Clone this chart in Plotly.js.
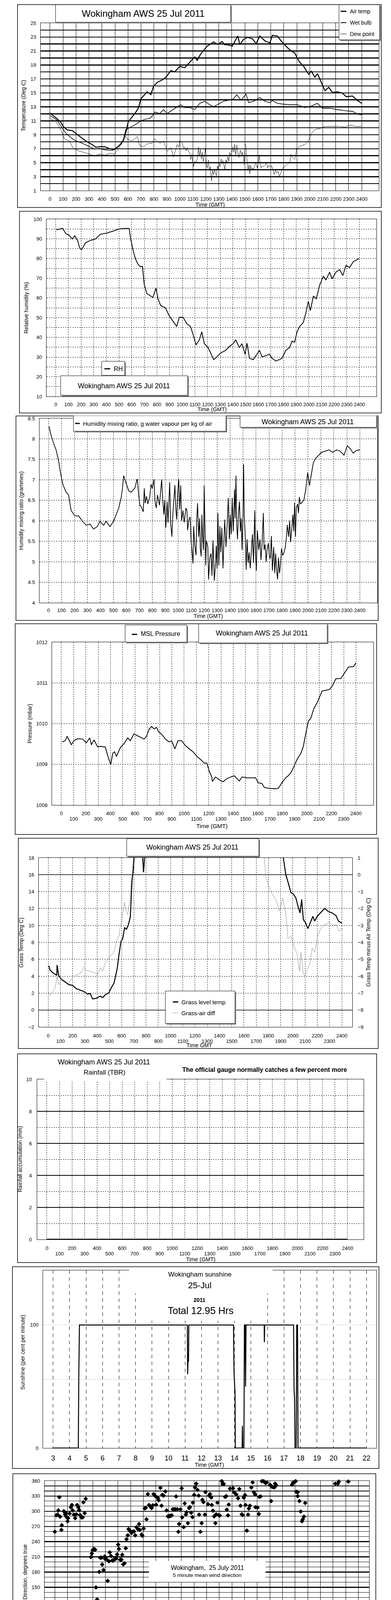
<!DOCTYPE html>
<html><head><meta charset="utf-8">
<script src="https://cdn.plot.ly/plotly-3.0.1.min.js"></script>
<style>
html,body{margin:0;padding:0;background:#fff}
body{width:1000px;height:5000px;position:relative}
.pn{position:absolute}
</style>
</head><body>
<div id="p1" class="pn"></div><div id="p2" class="pn"></div><div id="p3" class="pn"></div>
<div id="p4" class="pn"></div><div id="p5" class="pn"></div><div id="p6" class="pn"></div>
<div id="p7" class="pn"></div><div id="p8" class="pn"></div><div id="p9" class="pn"></div>
<script>
// ---------------- DATA ----------------
const hhmmTicks = [0,100,200,300,400,500,600,700,800,900,1000,1100,1200,1300,1400,1500,1600,1700,1800,1900,2000,2100,2200,2300,2400];
const hourTicks = [0,1,2,3,4,5,6,7,8,9,10,11,12,13,14,15,16,17,18,19,20,21,22,23];
const hourLabels = ['00:00','01:00','02:00','03:00','04:00','05:00','06:00','07:00','08:00','09:00','10:00','11:00','12:00','13:00','14:00','15:00','16:00','17:00','18:00','19:00','20:00','21:00','22:00','23:00'];
const sunTicks = [3,4,5,6,7,8,9,10,11,12,13,14,15,16,17,18,19,20,21,22];
const dirTicks = [0,1,2,3,4,5,6,7,8,9,10,11,12,13,14,15,16,17,18,19,20,21,22,23,24];

// Panel 1: temperatures (time HHMM, deg C)
const airTemp = [[0,12.1],[54,11.3],[83,10.8],[102,10.2],[131,9.7],[170,9.6],[189,9.35],[218,8.9],[247,8.5],[285,8.0],[324,7.6],[353,7.2],[382,7.3],[420,7.3],[459,7.0],[488,6.9],[517,7.2],[546,7.7],[565,8.2],[584,9.35],[603,10.9],[632,11.55],[661,12.25],[680,12.8],[700,14.15],[719,14.55],[748,15.15],[777,14.75],[796,15.9],[825,16.5],[864,16.85],[893,17.25],[931,18.2],[960,18.0],[999,18.8],[1037,18.6],[1076,19.4],[1114,20.15],[1133,19.65],[1153,20.35],[1182,21.1],[1211,21.7],[1240,22.05],[1260,22.3],[1288,21.95],[1326,22.35],[1345,21.9],[1365,21.9],[1403,21.7],[1432,22.65],[1446,23.15],[1461,21.9],[1490,22.65],[1519,22.95],[1558,22.75],[1587,22.05],[1615,23.15],[1654,22.45],[1693,22.15],[1712,23.25],[1750,23.15],[1779,22.45],[1799,22.05],[1827,21.5],[1856,21.0],[1885,20.7],[1904,19.95],[1924,19.35],[1953,18.8],[1991,17.65],[2011,18.1],[2040,17.25],[2059,17.75],[2088,16.5],[2117,15.3],[2146,15.8],[2175,15.05],[2213,15.15],[2252,14.95],[2281,14.45],[2329,14.55],[2368,13.9],[2400,13.5]];
const wetBulb = [[0,11.75],[54,11.1],[93,10.0],[121,9.25],[150,8.75],[189,8.2],[247,7.8],[305,7.3],[343,6.95],[382,7.05],[420,6.85],[478,6.75],[507,6.95],[536,7.5],[565,8.3],[584,9.75],[613,10.0],[661,10.5],[700,11.0],[738,11.25],[767,11.35],[787,11.65],[806,12.25],[845,12.05],[874,12.6],[902,12.05],[941,12.55],[979,13.0],[1008,13.3],[1037,12.9],[1076,12.9],[1114,12.6],[1153,13.5],[1191,13.8],[1230,13.3],[1259,13.0],[1297,13.4],[1336,13.8],[1374,13.95],[1413,14.15],[1438,14.75],[1471,13.95],[1509,14.85],[1529,13.6],[1567,13.8],[1615,14.35],[1654,13.8],[1693,13.6],[1712,13.9],[1750,13.5],[1789,13.4],[1846,13.3],[1904,13.3],[1962,12.9],[2011,13.1],[2059,13.5],[2097,12.8],[2155,12.8],[2213,12.6],[2271,12.45],[2329,12.35],[2368,11.95],[2400,11.85]];
const dewPoint = [[0,11.35],[44,10.9],[83,9.75],[112,8.4],[150,8.1],[179,7.05],[227,6.65],[285,6.35],[343,5.95],[382,6.25],[420,6.05],[459,6.35],[497,6.25],[526,7.05],[555,7.8],[574,8.95],[594,8.4],[632,8.1],[671,8.75],[690,7.5],[719,7.25],[748,7.7],[787,7.8],[806,8.4],[845,7.8],[874,8.1],[902,6.65],[931,7.15],[950,5.8],[979,7.6],
 [992,7.26],[1000,8.19],[1008,8.0],[1018,7.82],[1028,7.07],[1038,7.26],[1048,6.69],[1058,7.16],[1066,6.6],[1078,6.32],[1083,5.47],[1093,6.22],[1100,5.0],[1106,4.44],[1113,5.19],[1123,5.0],[1136,5.75],[1143,7.26],[1150,5.94],[1158,6.88],[1166,5.57],[1173,6.5],[1180,5.19],[1188,5.85],[1196,7.07],[1204,4.82],[1211,4.25],[1219,5.38],[1227,3.88],[1234,4.44],[1239,3.03],[1244,2.38],[1251,3.88],[1259,3.31],[1267,3.97],[1274,3.5],[1281,3.13],[1289,4.53],[1294,4.07],[1301,5.0],[1309,4.44],[1317,5.57],[1324,4.82],[1331,5.29],[1339,4.72],[1346,4.07],[1354,5.38],[1361,5.0],[1369,5.85],[1377,5.19],[1384,6.5],[1391,5.94],[1399,6.41],[1408,7.26],[1415,6.5],[1422,7.63],[1430,6.13],[1438,7.54],[1445,6.5],[1455,5.75],[1465,6.79],[1475,6.13],[1482,6.5],[1490,5.57],[1495,4.72],[1502,7.72],[1508,7.44],[1512,6.22],[1518,5.0],[1525,3.88],[1532,4.72],[1538,3.41],[1545,4.63],[1552,3.88],[1560,4.25],[1568,4.07],[1575,4.53],[1585,5.0],[1595,4.25],[1602,4.82],[1611,6.13],[1619,4.63],[1626,4.25],[1636,4.53],[1646,4.44],[1656,4.63],[1666,5.1],[1676,4.25],[1686,4.63],[1696,4.44],[1706,4.53],[1716,4.07],[1726,3.31],[1736,3.97],[1746,3.5],[1756,3.78],[1766,2.94],[1776,3.5],[1786,3.97],[1796,4.35],[1807,4.44],[1817,4.63],[1827,4.72],[1837,4.91],[1847,5.1],[1854,6.22],[1862,5.85],[1872,5.66],[1882,5.47],[1892,5.94],[1897,7.07],[1904,6.88],[1912,7.16],[1922,7.35],[1937,7.44],[1952,7.54],
 [1962,7.6],[1991,8.2],[2011,9.15],[2040,9.75],[2078,9.9],[2117,10.2],[2175,10.2],[2233,10.2],[2271,10.1],[2310,10.4],[2348,10.2],[2400,10.2]];

// Panel 2: relative humidity (%)
const rh = [[6,94.6],[55,95.3],[79,92.6],[105,91.9],[131,89.9],[150,91.6],[174,88.9],[190,85.2],[204,84.5],[234,87.9],[273,89.2],[313,89.9],[352,92.3],[402,92.9],[451,93.9],[501,95.0],[550,95.3],[580,95.3],[590,90.6],[610,84.5],[630,79.8],[650,77.1],[669,75.8],[685,76.1],[699,67.0],[719,62.3],[749,61.0],[768,60.3],[792,65.0],[808,59.6],[828,56.3],[867,54.9],[897,50.9],[927,48.2],[956,45.5],[976,50.2],[1006,50.2],[1036,46.9],[1065,45.5],[1085,41.5],[1109,36.1],[1135,38.8],[1154,42.8],[1174,36.8],[1204,34.8],[1224,32.1],[1248,28.7],[1273,30.1],[1303,32.1],[1343,33.4],[1372,35.4],[1402,36.8],[1422,38.8],[1451,34.8],[1471,36.8],[1497,31.4],[1511,37.1],[1531,29.4],[1560,28.7],[1590,31.4],[1610,33.4],[1630,30.1],[1659,30.7],[1689,31.4],[1709,29.4],[1739,28.0],[1768,28.7],[1788,29.4],[1818,33.4],[1848,34.8],[1867,38.1],[1887,37.5],[1907,42.8],[1927,45.5],[1956,47.5],[1976,52.3],[1996,58.3],[2012,53.6],[2036,61.0],[2059,59.6],[2085,66.4],[2115,71.1],[2135,69.1],[2164,73.1],[2184,69.7],[2214,73.1],[2243,74.4],[2269,71.4],[2293,76.5],[2323,75.5],[2352,78.5],[2376,79.2],[2396,80.0]];

// Panel 3: humidity mixing ratio (g/kg)
const mixRatio = [[4,8.30],[19,8.09],[39,7.89],[58,7.73],[77,7.47],[93,7.15],[110,6.89],[135,6.70],[154,6.63],[174,6.25],[203,6.12],[232,6.12],[261,5.99],[290,5.89],[319,5.92],[347,5.80],[376,5.86],[396,5.99],[425,5.89],[444,5.99],[473,5.86],[502,5.99],[521,6.15],[541,6.31],[560,6.57],[569,6.76],[579,7.10],[598,6.92],[618,6.73],[637,6.70],[666,6.80],[681,7.0],
 [684,7.02],[694,6.66],[704,6.38],[714,6.35],[730,6.22],[738,6.79],[745,6.43],[755,6.6],[765,6.41],[780,6.58],[790,6.89],[800,6.79],[813,7.01],[820,6.5],[830,6.31],[840,6.63],[855,6.38],[872,7.01],[880,6.54],[889,6.15],[896,6.5],[904,5.83],[914,6.47],[921,5.95],[934,6.94],[941,5.96],[951,5.61],[958,6.15],[974,6.87],[981,6.31],[988,6.03],[996,6.7],[1004,7.02],[1011,6.28],[1019,6.86],[1026,6.0],[1036,6.25],[1046,5.96],[1059,6.31],[1067,6.25],[1072,5.77],[1082,6.03],[1092,6.09],[1099,5.52],[1107,5.26],[1114,4.96],[1119,5.87],[1127,5.42],[1137,5.16],[1142,6.0],[1149,6.43],[1157,5.61],[1165,6.06],[1170,5.32],[1177,5.13],[1182,6.15],[1187,5.67],[1194,5.29],[1200,6.86],[1207,5.8],[1212,4.91],[1217,5.52],[1228,5.36],[1234,4.56],[1243,5.1],[1253,5.2],[1260,4.66],[1268,5.52],[1278,4.54],[1288,4.97],[1293,5.39],[1300,4.84],[1306,6.19],[1313,4.91],[1321,5.87],[1328,5.23],[1336,5.83],[1345,4.84],[1353,5.61],[1358,6.03],[1368,5.36],[1376,5.83],[1386,6.56],[1394,5.55],[1401,6.15],[1409,5.67],[1416,6.56],[1424,5.74],[1434,6.77],[1439,6.06],[1445,7.1],[1451,5.9],[1457,5.55],[1464,6.15],[1472,6.47],[1479,5.74],[1486,6.06],[1492,5.29],[1499,6.09],[1504,7.38],[1509,6.12],[1517,5.61],[1524,4.8],[1531,5.55],[1539,4.97],[1547,5.23],[1555,4.84],[1565,5.36],[1572,5.67],[1580,4.97],[1590,6.25],[1595,5.23],[1602,4.78],[1610,5.77],[1620,5.29],[1630,5.55],[1638,5.04],[1647,5.48],[1656,6.19],[1662,5.29],[1670,5.42],[1678,5.0],[1685,5.29],[1695,5.45],[1702,5.16],[1710,5.07],[1718,5.63],[1726,4.78],[1736,5.36],[1744,4.72],[1751,5.2],[1759,4.78],[1766,4.57],[1773,5.1],[1781,4.72],[1789,4.94],[1796,5.32],[1806,5.16],[1816,5.23],[1826,5.36],[1836,5.67],[1841,5.9],[1851,5.61],[1859,6.0],[1866,5.48],[1876,5.83],[1884,6.15],[1891,5.74],[1897,6.44],[1904,5.61],[1910,6.31],[1920,6.41],[1927,6.19],[1934,6.58],[1942,6.41],[1952,6.44],
 [1969,6.51],[1983,6.76],[1998,7.18],[2012,6.86],[2027,7.15],[2041,7.41],[2056,7.51],[2075,7.57],[2104,7.67],[2133,7.70],[2162,7.73],[2191,7.67],[2220,7.73],[2249,7.70],[2278,7.60],[2303,7.83],[2326,7.76],[2349,7.65],[2375,7.72],[2400,7.73]];

// Panel 4: MSL pressure (mbar)
const pressure = [[6,1009.55],[31,1009.58],[47,1009.69],[82,1009.48],[102,1009.58],[133,1009.63],[174,1009.62],[204,1009.53],[231,1009.65],[245,1009.48],[266,1009.6],[296,1009.43],[317,1009.44],[357,1009.43],[382,1009.17],[402,1009.0],[419,1009.27],[433,1009.31],[449,1009.19],[480,1009.41],[511,1009.51],[541,1009.65],[562,1009.58],[592,1009.75],[623,1009.7],[653,1009.65],[674,1009.62],[694,1009.69],[715,1009.86],[735,1009.93],[756,1009.87],[776,1009.91],[790,1009.81],[817,1009.74],[848,1009.62],[878,1009.55],[899,1009.58],[925,1009.38],[950,1009.58],[980,1009.58],[1011,1009.46],[1042,1009.38],[1072,1009.31],[1103,1009.2],[1134,1009.12],[1164,1009.03],[1185,1009.03],[1205,1008.83],[1225,1008.69],[1230,1008.58],[1256,1008.69],[1287,1008.62],[1317,1008.57],[1348,1008.65],[1379,1008.69],[1409,1008.72],[1450,1008.59],[1471,1008.69],[1511,1008.67],[1552,1008.67],[1583,1008.67],[1603,1008.55],[1634,1008.53],[1654,1008.43],[1695,1008.41],[1736,1008.4],[1767,1008.41],[1797,1008.55],[1828,1008.67],[1848,1008.72],[1869,1008.79],[1889,1008.91],[1920,1009.12],[1951,1009.27],[1971,1009.44],[1991,1009.75],[2012,1010.06],[2032,1010.13],[2057,1010.37],[2083,1010.51],[2104,1010.65],[2124,1010.8],[2155,1010.82],[2185,1010.84],[2206,1010.92],[2236,1011.1],[2277,1011.11],[2308,1011.25],[2339,1011.39],[2380,1011.4],[2400,1011.49]];

// Panel 5: grass temperature and grass-air difference
const grassTemp = [[4,5.24],[14,4.76],[35,4.44],[59,4.2],[70,4.1],[72,5.32],[86,4.04],[107,3.64],[137,3.32],[168,3.0],[199,2.92],[230,2.52],[260,2.36],[291,2.2],[322,1.88],[343,1.96],[363,1.31],[394,1.4],[425,1.64],[445,1.47],[466,1.8],[496,2.04],[517,2.68],[537,3.16],[552,4.12],[564,4.92],[578,6.52],[595,8.12],[609,8.44],[624,9.72],[640,9.56],[654,10.04],[671,11.0],[685,15.33],[695,16.6],[704,18.4],[705,null],[771,18.4],[776,17.0],[779,16.3],[784,17.2],[789,18.4],[790,null],[1918,18.4],[1922,18.0],[1943,15.97],[1963,15.0],[1984,13.88],[2004,13.72],[2025,13.24],[2045,12.12],[2059,11.48],[2072,13.08],[2086,10.68],[2103,10.36],[2123,9.64],[2148,10.52],[2164,11.08],[2178,10.52],[2199,11.08],[2230,11.56],[2260,12.01],[2291,11.64],[2322,11.48],[2353,11.16],[2373,10.52],[2400,10.28]];
const grassDiff = [[4,-6.98],[14,-7.14],[35,-6.9],[55,-6.74],[72,-6.02],[86,-6.5],[113,-6.18],[137,-6.26],[168,-6.42],[189,-6.18],[209,-6.02],[240,-5.9],[271,-5.78],[291,-5.46],[312,-5.66],[343,-5.7],[373,-5.78],[404,-5.9],[425,-5.5],[445,-5.7],[466,-5.22],[486,-5.02],[507,-4.82],[537,-4.58],[558,-3.94],[578,-3.62],[599,-2.66],[613,-2.18],[624,-1.62],[636,-2.18],[650,-2.34],[667,-1.46],[677,-0.5],[687,0.06],[697,1.1],[698,null],[1766,1.1],[1768,0.95],[1778,-0.1],[1799,-0.58],[1830,-1.14],[1860,-1.46],[1891,-2.14],[1918,-1.38],[1943,-2.34],[1960,-3.78],[1984,-3.62],[2014,-4.26],[2035,-4.74],[2055,-5.7],[2066,-4.58],[2086,-5.86],[2096,-5.94],[2117,-5.62],[2137,-5.3],[2158,-4.34],[2178,-4.58],[2199,-3.78],[2219,-3.3],[2250,-2.98],[2281,-2.9],[2291,-2.78],[2322,-2.98],[2353,-2.94],[2377,-3.34],[2400,-3.14]];

// Panel 6: rainfall accumulation (mm)
const rainfall = [[0,0],[2400,0]];

// Panel 7: sunshine (hour, per cent per minute)
const sunshine = [[3,0],[4.53,0],[4.56,60],[4.6,100],[11.14,100],[11.16,60],[11.19,76],[11.21,70],[11.23,100],[13.94,100],[13.97,62],[14.0,55],[14.03,45],[14.05,0],[14.46,0],[14.48,18],[14.5,0],[14.57,0],[14.6,100],[14.64,100],[14.67,50],[14.7,100],[15.8,100],[15.81,86],[15.83,100],[17.58,100],[17.61,48],[17.64,40],[17.67,0],[17.74,0],[17.77,100],[17.82,100],[17.85,0],[22,0]];

// Panel 8: 5 minute mean wind direction (hour, degrees)
const windDir = [[0,259.6],[0.12,291.9],[0.22,293.4],[0.28,301.7],[0.36,327.8],[0.42,289.4],[0.52,263.3],[0.55,272.5],[0.71,300.1],[0.81,294],[0.87,296.5],[0.91,289.4],[0.97,287.9],[1.01,280.2],[1.05,286.3],[1.17,295.5],[1.27,307.8],[1.35,312.4],[1.41,301.7],[1.51,293.4],[1.61,286.3],[1.70,294],[1.76,312.4],[1.86,307.8],[1.92,302.3],[2.0,292.5],[2.10,287.9],[2.2,287.9],[2.26,317.6],[2.36,296.2],[2.44,324.7],[2.5,19.3],[2.6,0.9],[2.66,4],[2.7,43.9],[2.73,5.5],[2.85,209.6],[2.93,216.7],[2.99,223.4],[3.09,225.6],[3.19,224],[3.25,149.7],[3.35,125.8],[3.45,106.8],[3.51,180.4],[3.59,208.4],[3.69,208.4],[3.75,194.9],[3.85,184.1],[3.94,210.8],[3.98,205.9],[4.08,205.6],[4.18,162.6],[4.28,201.3],[4.34,218.8],[4.44,211.7],[4.54,202.8],[4.62,202.8],[4.68,204.1],[4.78,208],[4.84,206.5],[4.93,214.8],[5.01,234.2],[5.07,225.6],[5.17,204.4],[5.27,204.4],[5.33,214.2],[5.41,195.2],[5.51,197.3],[5.61,227.1],[5.67,244.9],[5.77,252.6],[5.83,264.8],[5.93,261.8],[6.0,259.6],[6.06,257.2],[6.16,259.6],[6.26,260.2],[6.36,252.6],[6.46,268.5],[6.56,264.8],[6.66,274.7],[6.72,263.3],[6.86,254.1],[6.92,251.6],[7.02,265.8],[7.11,305.7],[7.19,306.9],[7.25,284.2],[7.35,333.9],[7.45,312.4],[7.55,309.4],[7.65,306.3],[7.75,311.8],[7.81,333.9],[7.91,330.8],[8.01,313],[8.05,327.8],[8.15,326.2],[8.21,321.6],[8.35,346.2],[8.44,310.9],[8.5,332.4],[8.6,330.8],[8.74,339.1],[8.84,301.7],[8.94,290],[9.06,290.3],[9.14,290.9],[9.24,291.9],[9.33,304.1],[9.43,303.8],[9.53,304.1],[9.59,329.3],[9.69,304.1],[9.77,259.6],[9.83,275],[9.93,303.8],[10.03,345.3],[10.07,287.9],[10.19,268.8],[10.27,315.5],[10.36,293.4],[10.42,298],[10.52,276.5],[10.62,306.3],[10.68,308.4],[10.78,297.1],[10.88,288.5],[10.92,317],[11.02,332.4],[11.08,347.1],[11.18,354.5],[11.28,342.2],[11.37,330.8],[11.41,293.4],[11.51,259.6],[11.61,276.5],[11.67,322.6],[11.75,318],[11.87,293.4],[11.91,337.9],[12.01,3],[12.11,314],[12.21,330.8],[12.27,333.9],[12.37,327.2],[12.41,312.4],[12.5,301.1],[12.6,290],[12.7,276.5],[12.76,294],[12.86,317],[12.96,292.5],[13.04,291.6],[13.1,5.5],[13.2,359.4],[13.26,353.9],[13.36,353.9],[13.46,328.4],[13.56,329.9],[13.6,303.2],[13.69,291.9],[13.75,313.3],[13.85,344.7],[13.93,24.5],[13.99,39.9],[14.09,345.3],[14.19,337],[14.29,39.9],[14.35,333],[14.45,4.6],[14.49,325.6],[14.59,344],[14.68,310.9],[14.78,294],[14.84,292.5],[14.94,326.8],[15.04,331.8],[15.08,312.4],[15.18,261.8],[15.28,293.4],[15.34,305.4],[15.42,310.9],[15.54,346.8],[15.64,356.9],[15.74,337.6],[15.84,333],[15.87,307.8],[16.03,307.2],[16.13,294.6],[16.17,328.4],[16.27,329.3],[16.37,359.4],[16.41,0.9],[16.51,359.4],[16.63,11],[16.67,355.4],[16.77,356.9],[16.86,8.6],[16.92,16.2],[17.02,352.3],[17.1,320.1],[17.16,348.3],[17.26,347.7],[17.36,347.1],[17.42,354.5],[17.5,351.4],[17.62,6.1],[17.72,4.6],[17.82,16.2],[17.92,4.6],[18.01,10.1],[18.11,11.7],[18.21,20.8],[18.31,14.7],[18.41,11.7],[18.49,13.2],[18.61,7.7],[18.75,352.3],[18.85,356.9],[18.95,357.5],[19.04,359.4],[19.1,338.5],[19.2,337.6],[19.2,329.9],[19.34,320.1],[19.44,299.5],[19.54,280.2],[19.6,283.9],[19.7,289.4],[19.8,316.4],[19.84,21.4],[19.94,25.4],[20.04,30.6],[20.2,20.8],[20.3,66.9],[20.34,47],[20.39,70.6],[20.53,57.7],[20.59,5.5],[20.69,23],[20.79,54.6],[20.89,58.6],[21.03,30.6],[21.12,28.5],[21.22,26],[21.32,23.9],[21.36,43.3],[21.48,36.2],[21.62,72.1],[21.68,59.8],[21.78,26],[21.88,27.6],[21.92,14.4],[22.02,5.5],[22.12,6.1],[22.18,354.5],[22.28,2.5],[22.38,354.5],[22.45,358.5],[22.51,22.4],[22.61,30.6],[22.71,16.2],[22.81,19.9],[22.91,10.1],[23.01,7.7],[23.11,13.2],[23.21,358.5],[23.37,2.5],[23.5,7.7],[23.6,11.7],[23.66,13.2],[23.76,21.4],[23.9,22.4]];

// Panel 9: wind speed (hour, knots)
const windMean = [[0,1.6],[0.5,1.8],[1,2.1],[1.5,2.4],[1.8,3.2],[2,3.0],[2.2,1.9],[2.5,1.6],[3,1.2],[3.5,1.4],[4,1.9],[4.3,1.4],[4.5,1.9],[5,1.6],[5.5,1.6],[6,2.3],[6.5,2.3],
 [6.85,2.0],[7.05,1.8],[7.15,3.5],[7.3,5.1],[7.4,4.1],[7.5,3.7],[7.6,5.1],[7.75,5.3],[7.85,4.5],[7.95,3.9],[8.05,5.1],[8.15,7.6],[8.25,6.4],[8.36,5.1],[8.46,5.5],[8.61,6.4],[8.76,6.0],[8.86,5.5],[9.01,6.4],[9.11,5.7],[9.26,4.5],[9.41,5.1],[9.56,5.5],[9.71,4.9],[9.86,5.3],[9.96,3.5],[10.04,2.4],[10.16,3.5],[10.31,4.5],[10.46,6.4],[10.61,6.6],[10.77,6.8],[10.92,6.6],[11.02,7.4],[11.12,8.0],[11.22,8.7],[11.32,7.8],[11.47,6.4],[11.57,4.5],[11.67,2.8],[11.82,3.9],[11.97,5.1],[12.07,3.9],[12.22,6.6],[12.37,6.8],[12.52,6.0],[12.72,7.4],[12.87,6.6],[13.02,6.0],[13.17,3.7],[13.28,3.0],[13.43,4.9],[13.58,4.3],[13.73,5.5],[13.88,5.3],[14.03,4.1],[14.23,3.2],[14.33,1.8],[14.48,4.1],[14.6,2.4],[14.73,5.3],[14.88,7.0],[14.98,6.4],[15.13,5.1],[15.28,5.7],[15.43,7.4],[15.58,7.0],[15.73,6.4],[15.89,4.5],[15.99,3.5],[16.14,4.3],[16.29,5.5],[16.44,5.1],[16.59,4.5],[16.74,4.9],[16.89,6.0],[17.04,4.5],[17.19,4.7],[17.34,5.5],[17.44,6.6],[17.64,6.2],[17.74,3.9],[17.84,2.6],[17.99,3.0],[18.14,2.8],[18.3,3.9],[18.45,5.1],[18.6,3.9],[18.75,2.2],[18.9,1.4],[19.05,1.2],[19.3,1.6],
 [19.5,1.4],[20,3.5],[20.3,2.8],[20.6,3.0],[21,2.3],[21.5,2.3],[22,1.6],[22.5,1.9],[23,1.0],[23.5,1.2],[23.9,1.4]];
const windGust = [[0,3.7],[0.5,3.0],[1,3.9],[1.4,4.8],[1.8,4.4],[2.1,3.5],[2.5,2.3],[2.9,1.9],[3,0],[3.1,1.5],[3.4,2.1],[4,4.4],[4.3,3.0],[4.7,3.0],[5,2.6],[5.5,2.3],[5.9,4.4],[6.1,5.5],[6.5,3.9],[6.8,4.6],
 [6.85,3.0],[6.95,1.8],[7.05,5.5],[7.15,7.8],[7.25,9.1],[7.35,7.0],[7.45,5.5],[7.55,7.2],[7.7,9.7],[7.8,6.0],[7.85,3.0],[7.95,4.7],[8.05,11.4],[8.15,8.0],[8.25,10.1],[8.36,7.6],[8.51,10.5],[8.61,7.6],[8.71,11.0],[8.81,7.2],[8.91,11.4],[9.01,8.5],[9.11,10.1],[9.21,6.8],[9.31,11.0],[9.41,7.2],[9.56,9.7],[9.71,7.6],[9.81,5.5],[9.91,8.5],[10.01,3.5],[10.16,7.2],[10.31,11.0],[10.46,11.6],[10.56,9.3],[10.66,12.5],[10.82,8.9],[10.97,15.4],[11.12,10.5],[11.27,15.2],[11.42,9.7],[11.57,7.2],[11.67,5.1],[11.77,8.5],[11.87,6.4],[11.97,9.3],[12.12,12.5],[12.27,9.3],[12.42,13.4],[12.57,8.9],[12.77,11.4],[12.92,9.3],[13.07,7.2],[13.22,6.0],[13.33,10.5],[13.48,7.6],[13.58,11.0],[13.73,7.2],[13.83,10.1],[14.0,5.1],[14.13,10.5],[14.28,5.5],[14.38,8.0],[14.53,3.5],[14.68,8.9],[14.78,13.6],[14.93,9.3],[15.08,12.0],[15.23,8.5],[15.38,12.5],[15.53,8.9],[15.68,11.0],[15.84,5.5],[15.94,3.9],[16.04,9.3],[16.19,7.6],[16.29,9.7],[16.44,6.0],[16.59,8.5],[16.74,6.4],[16.89,9.3],[17.04,5.5],[17.19,8.0],[17.29,10.5],[17.39,11.4],[17.49,7.6],[17.59,8.5],[17.74,5.1],[17.84,3.5],[17.94,6.8],[18.04,3.5],[18.19,5.5],[18.3,8.9],[18.4,7.2],[18.5,6.4],[18.65,2.6],[18.8,1.8],[18.95,1.6],[19.15,2.2],[19.35,2.0],
 [19.5,2.1],[19.8,2.6],[20,7.5],[20.3,4.8],[20.6,5.7],[20.9,3.9],[21.1,5.3],[21.5,3.0],[21.9,2.6],[22.3,2.3],[22.6,3.0],[23,1.9],[23.5,2.1],[23.9,2.8]];
const windLowX10 = [[0,15.6],[0.04,14.7],[0.10,17.4],[0.14,18.3],[0.19,19.7],[0.23,23.3],[0.27,22.0],[0.33,20.6],[0.39,21.5],[0.42,19.3],[0.48,18.3],[0.52,17.0],[0.58,16.3],[0.62,17.4],[0.68,18.8],[0.71,19.7],[0.77,22.0],[0.81,23.3],[0.91,22.4],[0.97,20.2],[1.04,19.3],[1.10,20.2],[1.16,23.3],[1.20,22.0],[1.26,20.6],[1.29,26.5],[1.35,27.8],[1.39,30.5],[1.43,33.0],[1.49,34.6],[1.51,36.8],[1.54,39.1],[1.58,37.7],[1.62,36.4],[1.68,35.0],[1.62,32.3],[1.68,30.1],[1.74,28.8],[1.78,27.0],[1.82,28.4],[1.87,29.7],[1.91,32.0],[1.93,33.8],[1.97,35.0],[2.03,32.7],[2.07,29.7],[2.07,28.0],[2.11,26.5],[2.12,22.9],[2.16,21.1],[2.16,17.0],[2.22,17.9],[2.28,16.5],[2.36,18.3],[2.41,15.6],[2.45,15.2],[2.51,15.6],[2.59,14.7],[2.65,14.3],[2.74,13.8],[2.78,12.9],[2.84,12.0],[2.90,8.9],[2.94,5.7],[2.99,13.8],[3.09,17.0],[3.13,15.2],[3.19,12.5],[3.23,11.1],[3.28,10.2],[3.32,8.0],[3.38,9.8],[3.42,12.9],[3.48,14.3],[3.55,11.1],[3.61,9.3],[3.65,15.2],[3.71,17.9],[3.75,19.7],[3.80,17.0],[3.86,16.3],[3.90,18.8],[4.00,23.3],[4.06,26.1],[4.09,28.2],[4.13,25.0],[4.19,22.4],[4.25,20.6],[4.29,17.4],[4.33,14.3],[4.38,12.5],[4.44,13.4],[4.48,19.7],[4.52,22.0],[4.58,23.8],[4.63,25.0],[4.67,22.9],[4.77,19.3],[4.83,18.3],[4.91,17.0],[4.96,15.2],[5.02,13.8],[5.10,12.9],[5.16,14.7],[5.21,16.3],[5.25,17.4],[5.35,18.8],[5.41,19.7],[5.48,17.0],[5.54,14.3],[5.60,16.3],[5.64,17.9],[5.68,19.3],[5.74,20.2],[5.79,21.5],[5.83,22.4],[5.89,23.8],[5.93,25.7],[5.97,28.4],[5.99,31.4],[6.03,33.8],[6.06,33.0],[6.12,33.4],[6.18,31.9],[6.26,30.5],[6.32,27.8],[6.37,26.0],[6.41,24.2],[6.45,23.3],[6.51,26.9],[6.57,28.7],[6.60,30.1],[6.66,32.3],[6.72,30.5],[6.76,27.8],[6.80,25.5],[6.84,23.3],[6.89,20.6],[6.93,19.3],[6.99,18.3],[7.03,21.5],[7.09,23.8],[7.13,27.8],[7.15,31.9],[7.18,34.6],[7.22,36.8],[7.49,40.0],[7.57,38.2],[7.61,36.0],[7.63,35.0],[7.72,37.7],[7.96,39.3],[8.00,37.7],[9.89,37.7],[9.95,36.0],[9.98,34.1],[10.02,33.2],[10.04,29.6],[10.08,27.8],[10.08,25.9],[10.02,23.3],[10.14,35.5],[10.20,39.1],[11.68,39.5],[11.74,35.5],[11.78,31.8],[11.82,30.0],[11.72,26.4],[11.82,39.1],[12.01,39.5],[12.07,36.4],[12.11,34.1],[12.05,32.7],[12.15,37.3],[13.17,36.8],[13.21,34.1],[13.27,32.7],[13.31,31.8],[13.21,29.2],[13.36,37.7],[13.36,35.0],[14.04,37.7],[14.10,38.6],[14.14,39.1],[14.04,36.0],[14.23,36.4],[14.29,28.7],[14.33,26.0],[14.37,23.3],[14.33,18.3],[14.43,32.3],[14.46,27.3],[14.52,25.0],[14.62,31.9],[14.66,28.7],[14.68,24.2],[14.72,36.4],[14.75,34.1],[15.97,39.1],[16.03,37.3],[16.03,35.0],[15.97,33.6],[16.01,32.7],[16.11,39.5],[16.65,39.5],[16.74,40.0],[17.32,39.5],[17.81,37.3],[17.84,32.3],[17.90,30.5],[17.86,27.3],[17.92,25.0],[17.96,28.7],[18.04,36.8],[18.10,39.1],[18.13,37.7],[18.15,35.0],[18.19,31.8],[18.23,30.0],[18.29,33.2],[18.33,35.0],[18.39,39.1],[18.64,36.8],[18.68,34.1],[18.71,30.5],[18.75,28.3],[18.77,26.0],[18.81,24.2],[18.81,21.1],[18.85,19.7],[18.87,17.9],[18.91,16.3],[18.96,14.3],[19.02,12.9],[19.10,11.5],[19.16,10.7],[19.25,13.4],[19.31,15.2],[19.35,16.5],[19.41,16.1],[19.45,14.3],[19.51,14.7],[19.58,15.6],[19.64,14.3],[19.70,17.0],[19.80,19.7],[19.83,20.2],[19.89,23.8],[19.93,25.7],[19.97,28.2],[19.99,30.5],[20.03,38.6],[20.12,36.8],[20.22,37.7],[20.28,35.5],[20.32,33.8],[20.36,32.0],[20.41,29.7],[20.47,27.9],[20.51,26.0],[20.57,28.7],[20.61,30.9],[20.64,33.2],[20.66,34.6],[20.70,37.3],[20.76,36.0],[20.80,33.8],[20.86,32.3],[20.90,36.4],[20.93,35.0],[20.99,27.0],[21.05,25.1],[21.09,23.3],[21.13,20.6],[21.17,18.8],[21.20,17.4],[21.24,16.1],[21.28,22.9],[21.32,25.7],[21.36,28.4],[21.40,29.3],[21.44,27.0],[21.48,24.3],[21.51,22.0],[21.57,21.1],[21.63,22.4],[21.67,26.1],[21.73,24.3],[21.77,22.4],[21.82,23.3],[21.86,24.6],[21.90,19.3],[21.96,17.0],[22.00,15.2],[22.04,13.4],[22.05,11.5],[22.09,10.7],[22.15,14.3],[22.21,16.1],[22.25,15.2],[22.31,18.3],[22.34,16.5],[22.40,14.3],[22.44,12.5],[22.48,15.2],[22.54,18.8],[22.60,20.6],[22.63,21.5],[22.69,19.3],[22.73,17.9],[22.79,20.2],[22.83,21.1],[22.89,22.4],[22.92,21.1],[22.96,18.8],[23.02,15.6],[23.06,13.4],[23.12,11.5],[23.16,8.4],[23.17,7.0],[23.21,9.8],[23.27,12.0],[23.33,13.8],[23.41,12.9],[23.46,12.0],[23.52,11.5],[23.60,12.9],[23.66,13.8],[23.72,12.5],[23.77,11.5],[23.83,10.2],[23.89,12.9],[23.95,14.3],[23.99,15.6],[24.02,16.5]];

// ---------------- HELPERS ----------------
const FONT = '"Liberation Sans", Arial, sans-serif';
const CFG = {staticPlot:true, displayModeBar:false};

function Panel(id, frame, plot){
  const [FL,FT,FR,FB]=frame,[PL,PT,PR,PB]=plot;
  const W=FR-FL,H=FB-FT,pw=PR-PL,ph=PB-PT;
  const el=document.getElementById(id);
  Object.assign(el.style,{left:FL+'px',top:FT+'px',width:W+'px',height:H+'px'});
  const px=x=>(x-PL)/pw, py=y=>(PB-y)/ph;
  const shapes=[],annotations=[];
  const p={px,py,shapes,annotations};
  p.rect=(x0,y0,x1,y1,fill,lc,lw)=>shapes.push({type:'rect',xref:'paper',yref:'paper',x0:px(x0),x1:px(x1),y0:py(y1),y1:py(y0),fillcolor:fill,line:{color:lc||'rgba(0,0,0,0)',width:lc?(lw||1):0},layer:'above'});
  p.box=(x0,y0,x1,y1)=>{p.rect(x0+3,y0+3,x1+3,y1+3,'#8a8a8a'); p.rect(x0,y0,x1,y1,'#fff','#000',1);};
  p.seg=(x0,y0,x1,y1,w,c)=>shapes.push({type:'line',xref:'paper',yref:'paper',x0:px(x0),x1:px(x1),y0:py(y0),y1:py(y1),line:{color:c||'#000',width:w},layer:'above'});
  p.hline=(yv,w,yref)=>shapes.push({type:'line',xref:'paper',yref:yref||'y',x0:0,x1:1,y0:yv,y1:yv,line:{color:'#000',width:w},layer:'between'});
  p.text=(x,y,t,size,o)=>annotations.push(Object.assign({xref:'paper',yref:'paper',x:px(x),y:py(y),text:t,showarrow:false,xanchor:'center',yanchor:'middle',font:{family:FONT,size:size,color:'#000'}},o||{}));
  p.rect(FL+0.75,FT+0.75,FR-0.75,FB-0.75,'rgba(0,0,0,0)','#000',1.5);
  p.layout=(extra)=>Object.assign({width:W,height:H,margin:{l:PL-FL,r:FR-PR,t:PT-FT,b:FB-PB,pad:0},paper_bgcolor:'#fff',plot_bgcolor:'#fff',showlegend:false,font:{family:FONT,size:13,color:'#000'},shapes,annotations},extra);
  return p;
}
function ax(o){return Object.assign({showline:true,mirror:true,linecolor:'#000',linewidth:1,ticks:'',zeroline:false,showgrid:true,gridcolor:'#000',gridwidth:1,tickangle:0,tickfont:{family:FONT,size:13,color:'#000'},fixedrange:true},o);}
function line(d,w,c,extra){return Object.assign({type:'scatter',mode:'lines',x:d.map(v=>v[0]),y:d.map(v=>v[1]),line:{color:c,width:w},hoverinfo:'skip'},extra||{});}
// Two staggered rows of tick labels: main axis carries even labels + all grid lines, overlay axis carries odd labels one row lower
function twoRowX(range, vals, labels, standoff, gridOpts){
  const main = ax(Object.assign({range, tickvals:vals, ticktext:labels.map((l,i)=>i%2?'':l), ticklabelstandoff:standoff}, gridOpts||{}));
  const second = ax({range, overlaying:'x', anchor:'y', side:'bottom', tickvals:vals.filter((v,i)=>i%2), ticktext:labels.filter((l,i)=>i%2), showgrid:false, showline:false, mirror:false, ticklabelstandoff:standoff+17});
  return {xaxis:main, xaxis2:second};
}
const dummyX2 = {type:'scatter',mode:'lines',x:[],y:[],xaxis:'x2',hoverinfo:'skip',showlegend:false};
const oneRow = hhmmTicks.map(String);
const dotGrid = {gridcolor:'#000',griddash:'dot',gridwidth:1};

// ---------------- PANEL 1 ----------------
(function(){
const p=Panel('p1',[44,11,976,532],[104,59,969,488]);
p.box(142,12,590,57); p.text(366,35,'Wokingham AWS 25 Jul 2011',24);
p.box(867,12,971,102);
p.seg(871,29,886,29,3); p.text(893,29,'Air temp',14,{xanchor:'left'});
p.seg(871,58,886,58,2); p.text(893,58,'Wet bulb',14,{xanchor:'left'});
p.seg(871,87,886,87,1); p.text(893,87,'Dew point',14,{xanchor:'left'});
p.text(537,524,'Time (GMT)',14);
p.text(60,270,'Temperature (Deg C)',14,{textangle:-90});
Plotly.newPlot('p1',[line(dewPoint,0.9,'#000'),line(wetBulb,1.6,'#000'),line(airTemp,2.5,'#000')],
 p.layout({xaxis:ax({range:[-72,2532],tickvals:hhmmTicks,ticktext:oneRow,ticklabelstandoff:9}),
  yaxis:ax({range:[1,25],tick0:1,dtick:2,gridwidth:2.5,ticklabelstandoff:8,minor:{dtick:1,showgrid:true,gridcolor:'#000',gridwidth:2.5}})}),CFG);
})();

// ---------------- PANEL 2 ----------------
(function(){
const p=Panel('p2',[49,540,976,1058],[119,561,963,1015]);
p.box(260,925,319,961); p.seg(267,944,282,944,3); p.text(289,944,'RH',16,{xanchor:'left'});
p.box(155,962,480,1012); p.text(317,988,'Wokingham AWS 25 Jul 2011',18);
p.text(542,1048,'Time (GMT)',14);
p.text(67,788,'Relative humidity (%)',14,{textangle:-90});
Plotly.newPlot('p2',[line(rh,2,'#000')],
 p.layout({xaxis:ax(Object.assign({range:[-73,2535],tickvals:hhmmTicks,ticktext:oneRow,ticklabelstandoff:8},dotGrid)),
  yaxis:ax(Object.assign({range:[10,100],dtick:10,ticklabelstandoff:8,minor:Object.assign({dtick:5,showgrid:true},dotGrid)},dotGrid))}),CFG);
})();

// ---------------- PANEL 3 ----------------
(function(){
const p=Panel('p3',[40,1064,968,1589],[101,1071,965,1543]);
p.box(188,1064,578,1104); p.seg(192,1084,204,1084,3); p.text(210,1084,'Humidity mixing ratio, g water vapour per kg of air',15,{xanchor:'left'});
p.box(614,1064,963,1094); p.text(787,1080,'Wokingham AWS 25 Jul 2011',18);
p.text(532,1577,'Time (GMT)',14);
p.text(54,1308,'Humidity mixing ratio (grammes)',14,{textangle:-90});
Plotly.newPlot('p3',[line(mixRatio,1.8,'#000')],
 p.layout({xaxis:ax(Object.assign({range:[-70,2535],tickvals:hhmmTicks,ticktext:oneRow,ticklabelstandoff:7},dotGrid)),
  yaxis:ax(Object.assign({range:[4,8.5],dtick:0.5,ticklabelstandoff:8},dotGrid))}),CFG);
})();

// ---------------- PANEL 4 ----------------
(function(){
const p=Panel('p4',[38,1596,964,2137],[133,1644,955,2061]);
p.box(320,1600,478,1644); p.seg(337,1624,351,1624,3); p.text(358,1622,'MSL Pressure',16,{xanchor:'left'});
p.box(508,1597,837,1646); p.text(670,1621,'Wokingham AWS 25 Jul 2011',18);
p.text(542,2114,'Time (GMT)',15);
p.text(76,1853,'Pressure (mbar)',14,{textangle:-90});
Plotly.newPlot('p4',[line(pressure,2,'#000'),dummyX2],
 p.layout(Object.assign(twoRowX([-76,2542],hhmmTicks,oneRow,9,dotGrid),
  {yaxis:ax(Object.assign({range:[1008,1012],dtick:1,ticklabelstandoff:8},dotGrid))})),CFG);
})();

// ---------------- PANEL 5 ----------------
(function(){
const p=Panel('p5',[46,2145,968,2685],[99,2196,901,2629]);
p.hline(16,1.5); p.hline(0,1.5);
p.box(324,2147,662,2192); p.text(492,2169,'Wokingham AWS 25 Jul 2011',18);
p.box(423,2537,601,2620);
p.seg(442,2565,456,2565,3); p.text(462,2565,'Grass level temp',15,{xanchor:'left'});
p.seg(442,2593,456,2593,1,'#888'); p.text(462,2593,'Grass-air diff',15,{xanchor:'left'});
p.text(510,2676,'Time GMT',14);
p.text(54,2413,'Grass Temp (Deg C)',14,{textangle:-90});
p.text(942,2413,'Grass Temp minus Air Temp (Deg C)',14,{textangle:-90});
Plotly.newPlot('p5',[line(grassDiff,1,'#8c8c8c',{yaxis:'y2'}),line(grassTemp,2.5,'#000'),dummyX2],
 p.layout(Object.assign(twoRowX([-78,2486],hhmmTicks,oneRow,10,dotGrid),{
  yaxis:ax(Object.assign({range:[-2,18],dtick:2,mirror:false,ticklabelstandoff:8},dotGrid)),
  yaxis2:ax({range:[-9,1],dtick:1,overlaying:'y',side:'right',showgrid:false,mirror:false,ticklabelstandoff:10})})),CFG);
})();

// ---------------- PANEL 6 ----------------
(function(){
const p=Panel('p6',[44,2697,964,3233],[95,2763,930,3173]);
p.rect(113,2759,426,2767,'#fff');
p.text(266,2719,'Wokingham AWS 25 Jul 2011',18);
p.text(267,2746,'Rainfall (TBR)',17);
p.text(677,2739,'<b>The official gauge normally catches a few percent more</b>',16);
p.text(513,3224,'Time (GMT)',14);
p.text(51,2967,'Rainfall accumulation (mm)',14,{textangle:-90});
Plotly.newPlot('p6',[line(rainfall,3.5,'#000'),dummyX2],
 p.layout(Object.assign(twoRowX([-78,2528],hhmmTicks,oneRow,10,dotGrid),{
  yaxis:ax({range:[0,10],dtick:2,gridwidth:2.5,ticklabelstandoff:10,minor:Object.assign({dtick:1,showgrid:true},dotGrid)})})),CFG);
})();

// ---------------- PANEL 7 ----------------
(function(){
const p=Panel('p7',[31,3242,970,3760],[110,3252,963,3707]);
p.rect(330,3249,697,3311,'#fff'); p.rect(359,3311,667,3381,'#fff');
p.text(511,3262,'Wokingham sunshine',17);
p.text(511,3290,'25-Jul',22);
p.text(510,3328,'<b>2011</b>',14);
p.text(513,3355,'Total 12.95 Hrs',25);
p.text(535,3750,'Time (GMT)',14);
p.text(58,3462,'Sunshine (per cent per minute)',14,{textangle:-90});
Plotly.newPlot('p7',[line(sunshine,2.5,'#000')],
 p.layout({xaxis:ax({range:[2.39,22.61],tickvals:sunTicks,ticktext:sunTicks.map(String),griddash:'dash',tickfont:{family:FONT,size:18,color:'#000'},ticklabelstandoff:9}),
  yaxis:ax({range:[0,144.4],tickvals:[0,55.6,100],ticktext:['0','','100'],gridcolor:'#aaa',griddash:'dot',ticklabelstandoff:8})}),CFG);
})();

// ---------------- PANEL 8 ----------------
(function(){
const p=Panel('p8',[32,3772,962,4307],[114,3791,944,4258]);
p.rect(381,3996,679,4050,'#fff');
p.text(530,4013,'Wokingham,\u00a0 25 July 2011',16);
p.text(530,4032,'5 minute mean wind direction',13.5);
p.text(529,4294,'Time (GMT)',14);
p.text(64,4024,'Direction, degrees true',14,{textangle:-90});
Plotly.newPlot('p8',[{type:'scatter',mode:'markers',x:windDir.map(v=>v[0]),y:windDir.map(v=>v[1]),marker:{symbol:'diamond',size:9,color:'#000'},cliponaxis:false,hoverinfo:'skip'}],
 p.layout({xaxis:ax({range:[-0.81,24.85],tickvals:dirTicks,ticktext:dirTicks.map(String),ticklabelstandoff:9}),
  yaxis:ax({range:[0,360],dtick:30,gridwidth:2.5,ticklabelstandoff:8,minor:{dtick:10,showgrid:true,gridcolor:'#000',gridwidth:1.2}})}),CFG);
})();

// ---------------- PANEL 9 ----------------
(function(){
const p=Panel('p9',[31,4318,962,4832],[89,4359,942,4757]);
p.rect(88,4355,436,4363,'#fff');
p.text(263,4338,'Wokingham,\u00a0 25 July 2011',18);
p.text(577,4326,'Wind speed, 10 min mean / max gust',13.5);
p.text(577,4344,'Speeds below 4 kt shown at x10 scale',13.5);
p.box(733,4321,957,4347);
p.seg(766,4334,777,4334,3); p.text(784,4334,'Speed x 1',12,{xanchor:'left'});
p.shapes.push({type:'path',xref:'paper',yref:'paper',path:`M ${p.px(858)},${p.py(4329)} L ${p.px(862.5)},${p.py(4334)} L ${p.px(858)},${p.py(4339)} L ${p.px(853.5)},${p.py(4334)} Z`,fillcolor:'#c8c8c8',line:{color:'#333',width:0.8},layer:'above'});
p.text(869,4334,'Speed /10',12,{xanchor:'left'});
p.text(955,4757,'0',13);
p.text(515,4808,'Time (GMT)',15);
p.text(44,4557,'Speed (knots)',14,{textangle:-90});
Plotly.newPlot('p9',[line(windGust,1,'#555'),line(windMean,2.2,'#000'),
  {type:'scatter',mode:'markers',x:windLowX10.map(v=>v[0]),y:windLowX10.map(v=>v[1]),marker:{symbol:'diamond',size:8,color:'#c8c8c8',line:{color:'#333',width:0.8}},hoverinfo:'skip'},dummyX2],
 p.layout(Object.assign(twoRowX([-0.77,24.95],hourTicks,hourLabels,10,dotGrid),{
  yaxis:ax(Object.assign({range:[0,50],dtick:10,ticklabelstandoff:8,minor:Object.assign({dtick:5,showgrid:true},dotGrid)},dotGrid))})),CFG);
})();
</script>
</body></html>
